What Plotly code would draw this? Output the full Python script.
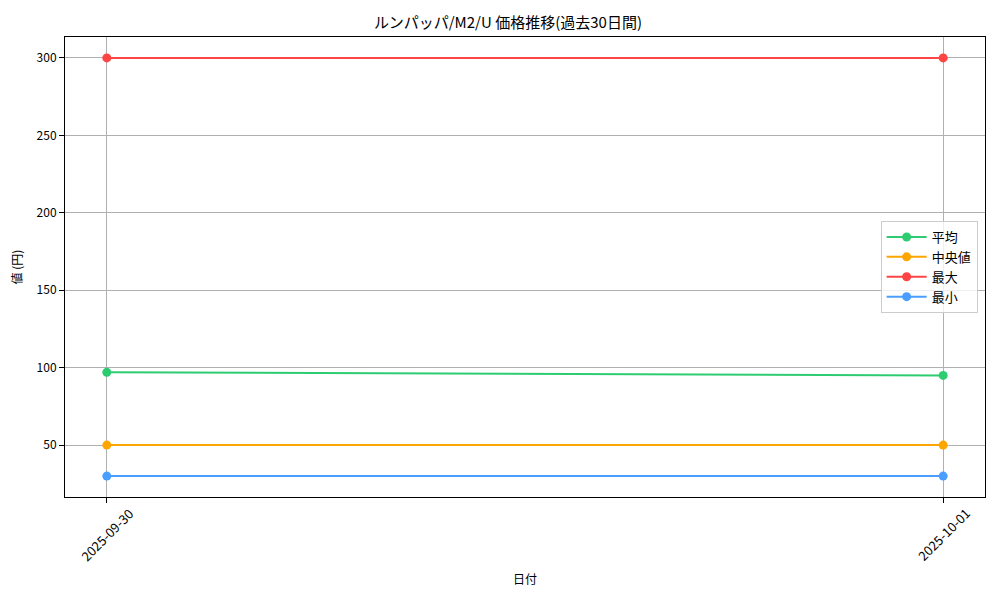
import plotly.graph_objects as go

# 日付
dates = ["2025-09-30", "2025-10-01"]

# 系列データ（円）
mean_vals = [97, 95]
median_vals = [50, 50]
max_vals = [300, 300]
min_vals = [30, 30]

series = [
    ("平均", mean_vals, "#2ecc71"),
    ("中央値", median_vals, "#ffa500"),
    ("最大", max_vals, "#ff4444"),
    ("最小", min_vals, "#4a9eff"),
]

FONT = "Noto Sans CJK JP, DejaVu Sans, sans-serif"

fig = go.Figure()
for name, vals, color in series:
    fig.add_trace(go.Scatter(
        x=dates, y=vals, name=name, mode="lines+markers",
        line=dict(color=color, width=2),
        marker=dict(color=color, size=9),
    ))

axis_common = dict(
    showline=True, mirror=True, linecolor="black", linewidth=1,
    showgrid=True, gridcolor="#b0b0b0", gridwidth=1,
    ticks="outside", ticklen=5, tickcolor="black",
    tickfont=dict(size=12, color="black"), zeroline=False,
    automargin=False,
)

# 日付ラベルは目盛の真下に中央揃えで45°回転
for d in dates:
    fig.add_annotation(
        x=d, xref="x", y=0, yref="paper", yshift=-37,
        xanchor="center", yanchor="middle",
        text=d, textangle=-45, showarrow=False,
        font=dict(size=13, color="black"),
    )

# ページ本体の余白(8px)を差し引いた余白
fig.update_layout(
    width=1000, height=600,
    paper_bgcolor="white", plot_bgcolor="white",
    font=dict(family=FONT, color="black"),
    title=dict(text="ルンパッパ/M2/U 価格推移(過去30日間)", x=0.5, xanchor="center",
               y=0.975, yanchor="middle", font=dict(size=15)),
    margin=dict(l=57, r=23, t=29, b=111),
    xaxis=dict(type="category", range=[-0.05, 1.05], tickangle=-45,
               title=dict(text="日付", font=dict(size=12)), **axis_common),
    yaxis=dict(range=[16.5, 313.5], tickvals=[50, 100, 150, 200, 250, 300],
               title=dict(text="値 (円)", font=dict(size=12)), **axis_common),
    legend=dict(x=0.992, y=0.5, xanchor="right", yanchor="middle",
                bgcolor="rgba(255,255,255,0.8)", bordercolor="#cccccc", borderwidth=1,
                font=dict(size=13), tracegroupgap=0, itemwidth=40),
    showlegend=True,
)
# 軸の目盛ラベルは透明にしてタイトル位置だけ保つ
fig.update_xaxes(tickfont=dict(size=12, color="rgba(0,0,0,0)"))

fig.write_html("out.html")
